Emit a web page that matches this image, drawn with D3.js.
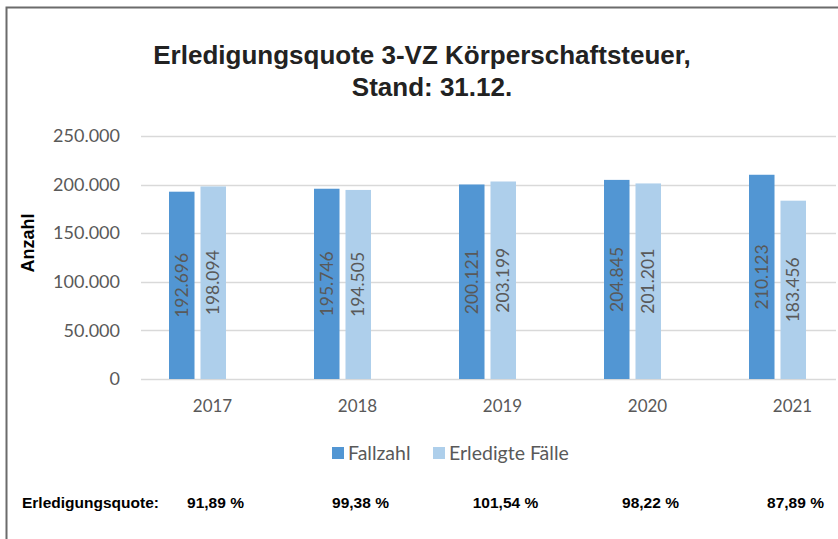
<!DOCTYPE html>
<html lang="de">
<head>
<meta charset="utf-8">
<title>Erledigungsquote 3-VZ Körperschaftsteuer</title>
<script src="https://d3js.org/d3.v7.min.js"></script>
<style>
  body { margin: 0; background: #fff; }
  svg { display: block; }
</style>
</head>
<body>
<script>

var years = ["2017", "2018", "2019", "2020", "2021"];
var seriesNames = ["Fallzahl", "Erledigte Fälle"];
var fallzahl = [192696, 195746, 200121, 204845, 210123];
var erledigt = [198094, 194505, 203199, 201201, 183456];
var quoten = ["91,89 %", "99,38 %", "101,54 %", "98,22 %", "87,89 %"];
var yTicks = [0, 50000, 100000, 150000, 200000, 250000];

var colors = ["#5296D3", "#AECFEB"];
var grey = "#595959";
var numFont = "Lato, 'Open Sans', sans-serif";
var boldFont = "'Liberation Sans', Arial, sans-serif";

var w = 838, h = 539;

var svg = d3.select("body").append("svg")
    .attr("width", w)
    .attr("height", h);

svg.append("rect").attr("width", w).attr("height", h).attr("fill", "#fff");

// frame (only top and left edges are visible)
svg.append("path")
    .attr("d", "M6.5," + h + "V7.5H" + w)
    .attr("fill", "none")
    .attr("stroke", "#6b6b6b")
    .attr("stroke-width", 2);

// title
var title = svg.append("text")
    .attr("text-anchor", "middle")
    .attr("font-family", boldFont)
    .attr("font-weight", "bold")
    .attr("font-size", 26)
    .attr("fill", "#222");
title.append("tspan").attr("x", 422).attr("y", 64).text("Erledigungsquote 3-VZ Körperschaftsteuer,");
title.append("tspan").attr("x", 432).attr("y", 96).text("Stand: 31.12.");

var y = d3.scaleLinear().domain([0, 250000]).range([379, 136]);

var x0 = d3.scaleBand().domain(years).range([125, 850]);
var x1 = d3.scaleBand().domain(seriesNames).range([0, 57]).paddingInner(0.19);
var groupOffset = (x0.bandwidth() - 57) / 2;

// gridlines
svg.append("g")
    .selectAll("line")
    .data(yTicks)
    .join("line")
    .attr("x1", 141).attr("x2", 836)
    .attr("y1", function(d) { return Math.round(y(d)) + 0.5; })
    .attr("y2", function(d) { return Math.round(y(d)) + 0.5; })
    .attr("stroke", "#d9d9d9")
    .attr("stroke-width", 1.5);

// y axis labels
var yAxis = d3.axisLeft(y).tickValues(yTicks).tickSize(0).tickPadding(0)
    .tickFormat(function(d) { return d === 0 ? "0" : d3.format(",")(d).replace(/,/g, "."); });
var gy = svg.append("g").attr("transform", "translate(120,0)").call(yAxis);
gy.select(".domain").remove();
gy.selectAll("text")
    .attr("font-family", numFont)
    .attr("font-size", 18)
    .attr("fill", grey);

svg.append("text")
    .attr("transform", "translate(34,243) rotate(-90)")
    .attr("text-anchor", "middle")
    .attr("font-family", boldFont)
    .attr("font-weight", "bold")
    .attr("font-size", 18)
    .attr("fill", "#000")
    .text("Anzahl");

// bars
var rows = years.map(function(yr, i) {
  return { year: yr, values: [
    { name: seriesNames[0], v: fallzahl[i] },
    { name: seriesNames[1], v: erledigt[i] }
  ]};
});

var groups = svg.append("g")
    .selectAll("g")
    .data(rows)
    .join("g")
    .attr("transform", function(d) { return "translate(" + (x0(d.year) + groupOffset) + ",0)"; });

groups.selectAll("rect")
    .data(function(d) { return d.values; })
    .join("rect")
    .attr("x", function(d) { return x1(d.name); })
    .attr("width", x1.bandwidth())
    .attr("y", function(d) { return y(d.v); })
    .attr("height", function(d) { return y(0) - y(d.v); })
    .attr("fill", function(d, i) { return colors[i]; });

groups.selectAll("text")
    .data(function(d) { return d.values; })
    .join("text")
    .attr("transform", function(d) {
      var cx = x1(d.name) + x1.bandwidth() / 2;
      var cy = (y(d.v) + y(0)) / 2;
      return "translate(" + cx + "," + cy + ") rotate(-90)";
    })
    .attr("text-anchor", "middle")
    .attr("dy", "0.35em")
    .attr("font-family", numFont)
    .attr("font-size", 17.5)
    .attr("fill", grey)
    .text(function(d) { return d3.format(",")(d.v).replace(/,/g, "."); });

// x axis labels
svg.append("g")
    .selectAll("text")
    .data(years)
    .join("text")
    .attr("x", function(d) { return x0(d) + x0.bandwidth() / 2 + 15; })
    .attr("y", 412)
    .attr("text-anchor", "middle")
    .attr("font-family", numFont)
    .attr("font-size", 17)
    .attr("fill", grey)
    .text(function(d) { return d; });

// legend
var legX = [332, 433];
var leg = svg.append("g")
    .selectAll("g")
    .data(seriesNames)
    .join("g")
    .attr("transform", function(d, i) { return "translate(" + legX[i] + ",447)"; });
leg.append("rect").attr("width", 12).attr("height", 12)
    .attr("fill", function(d, i) { return colors[i]; });
leg.append("text")
    .attr("x", 16).attr("y", 13)
    .attr("font-family", numFont)
    .attr("font-size", 19.5)
    .attr("fill", grey)
    .text(function(d) { return d; });

// Erledigungsquote row
svg.append("text")
    .attr("x", 22).attr("y", 508)
    .attr("font-family", boldFont)
    .attr("font-weight", "bold")
    .attr("font-size", 15.5)
    .attr("fill", "#000")
    .text("Erledigungsquote:");

svg.append("g")
    .selectAll("text")
    .data(quoten)
    .join("text")
    .attr("x", function(d, i) { return x0(years[i]) + x0.bandwidth() / 2 + 18; })
    .attr("y", 508)
    .attr("text-anchor", "middle")
    .attr("font-family", boldFont)
    .attr("font-weight", "bold")
    .attr("font-size", 15.5)
    .attr("fill", "#000")
    .text(function(d) { return d; });

</script>
</body>
</html>
